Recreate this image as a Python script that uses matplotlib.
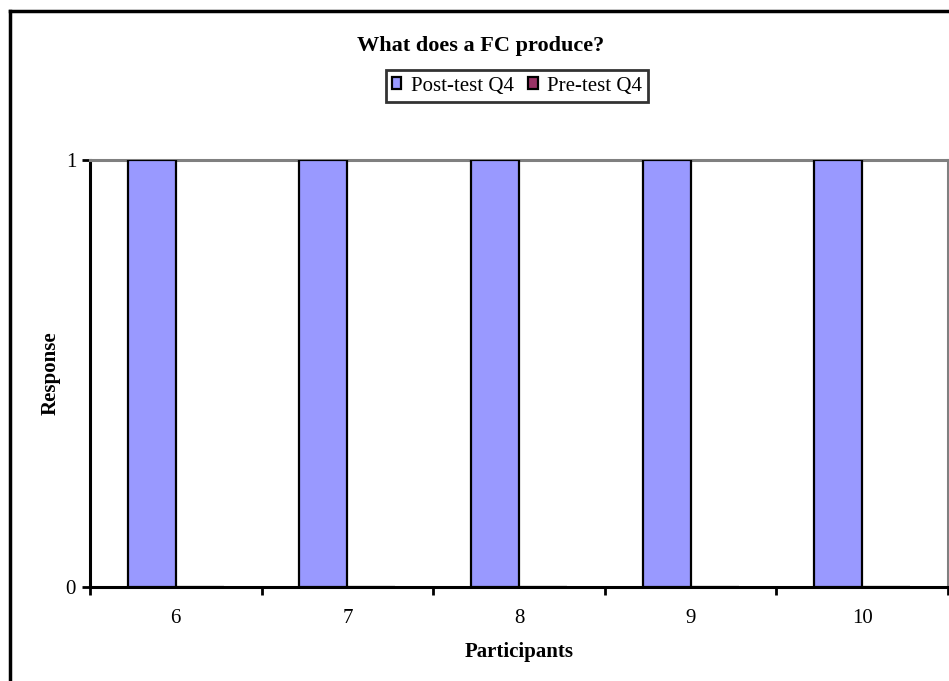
import matplotlib.pyplot as plt
import numpy as np

participants = ["6", "7", "8", "9", "10"]
post_test = [1, 1, 1, 1, 1]
pre_test = [0, 0, 0, 0, 0]

plt.rcParams['font.family'] = ['Liberation Serif', 'DejaVu Serif']

fig = plt.figure(figsize=(9.49, 6.81), dpi=100)
ax = fig.add_axes([90 / 949, 1 - 587 / 681, 858 / 949, 427 / 681])

x = np.arange(len(participants))
w = 0.28
ax.bar(x - w / 2, post_test, w, color="#9999FF", edgecolor="black", linewidth=1.6,
       label="Post-test Q4", zorder=3)
ax.bar(x + w / 2, pre_test, w, color="#993366", edgecolor="black", linewidth=1.6,
       label="Pre-test Q4", zorder=3)

ax.set_xlim(-0.5, len(participants) - 0.5)
ax.set_ylim(0, 1)

ax.set_xticks(x)
ax.set_xticklabels(participants, fontsize=15)
ax.tick_params(axis="x", which="major", length=0, pad=16)
ax.set_xticks(np.arange(len(participants) + 1) - 0.5, minor=True)
ax.tick_params(axis="x", which="minor", length=6, width=2, direction="out")
ax.set_yticks([0, 1])
ax.set_yticklabels(["0", "1"], fontsize=15)
ax.tick_params(axis="y", length=6, width=2, direction="out", pad=4)

for side in ["left", "bottom"]:
    ax.spines[side].set_color("black")
    ax.spines[side].set_linewidth(2.2)
for side in ["top", "right"]:
    ax.spines[side].set_color("#808080")
    ax.spines[side].set_linewidth(2.2)

ax.set_xlabel("Participants", fontsize=15, fontweight="bold", labelpad=10)
ax.set_ylabel("Response", fontsize=15, fontweight="bold", labelpad=4)

fig.text(481 / 949, 1 - 46 / 681, "What does a FC produce?", ha="center", va="center",
         fontsize=16, fontweight="bold")

leg = fig.legend(loc="center", bbox_to_anchor=(517 / 949, 1 - 86 / 681), ncol=2,
                 fontsize=15, frameon=True, fancybox=False, handlelength=0.45,
                 handleheight=0.45, handletextpad=0.45, columnspacing=0.7,
                 borderpad=0.3, borderaxespad=0)
leg.get_frame().set_edgecolor("black")
leg.get_frame().set_linewidth(2)

# outer chart border (top and left visible)
fig.add_artist(plt.Line2D([9.5 / 949, 9.5 / 949], [0, 1 - 10.5 / 681], color="black",
                          linewidth=2.5, transform=fig.transFigure))
fig.add_artist(plt.Line2D([9.5 / 949, 1], [1 - 10.5 / 681, 1 - 10.5 / 681], color="black",
                          linewidth=2.5, transform=fig.transFigure))

fig.savefig("out.png", dpi=100)
